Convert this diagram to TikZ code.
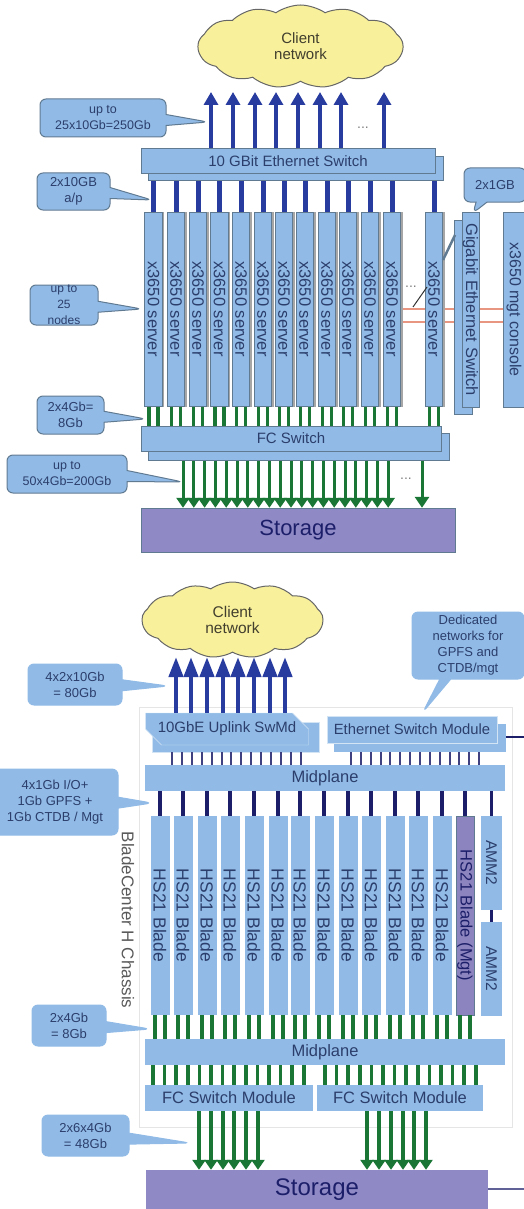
\documentclass[tikz,border=0pt]{standalone}
\usepackage{fontspec}
\usepackage{graphicx}
\setmainfont{Liberation Sans}
\usetikzlibrary{arrows.meta,calc,positioning,backgrounds,shapes.misc,shapes.symbols,shapes.callouts,shadows}
\definecolor{panel}{RGB}{145,187,230}
\definecolor{edge}{RGB}{96,122,146}
\definecolor{ink}{RGB}{44,62,108}
\definecolor{tenG}{RGB}{40,60,160}
\definecolor{navy}{RGB}{28,30,105}
\definecolor{fcg}{RGB}{26,118,52}
\definecolor{stor}{RGB}{143,138,198}
\definecolor{mgtp}{RGB}{140,132,190}
\definecolor{cloudy}{RGB}{248,240,155}
\definecolor{redl}{RGB}{232,150,130}
\newcommand{\fs}[1]{\fontsize{#1}{16}\selectfont}
\newcommand{\vt}[1]{\rotatebox{-90}{#1}}
\tikzset{
  plate/.style={rectangle,fill=panel,inner sep=0pt,text=ink,font=\fs{15}},
  swb/.style={plate,draw=edge,line width=1pt},
  srv/.style={swb,minimum width=17.5pt,minimum height=194pt,font=\fs{16.5},copy shadow={shadow xshift=1.6pt,shadow yshift=0pt,fill=gray!70,draw=gray!70}},
  blade/.style={plate,minimum width=19pt,minimum height=199pt,font=\fs{17.5}},
  note/.style={rectangle callout,fill=panel,draw=#1,line width=1pt,rounded corners=6pt,inner sep=0pt,text=ink,align=center,callout pointer width=11pt,font=\fs{13}},
  note/.default=edge,
  sky/.style={cloud,cloud puffs=13,cloud puff arc=70,aspect=2.5,fill=cloudy,draw=gray!80!black,line width=1pt,inner sep=0pt,align=center,text=black!70!olive,font=\fs{15}},
  store/.style={rectangle,fill=stor,inner sep=0pt,text=navy},
  dots/.style={inner sep=0pt,text=gray,font=\fs{14}},
  uparr/.style={-{Triangle[length=13pt,width=14pt]},tenG,line width=4.5pt},
  uplong/.style={-{Triangle[length=20pt,width=14pt]},tenG,line width=4.2pt},
  dnarr/.style={-{Triangle[length=10pt,width=13pt]},fcg,line width=3pt},
  blu/.style={tenG,line width=5pt},
  thin/.style={navy!85,line width=2pt},
  drk/.style={navy,line width=3.5pt},
  grn/.style={fcg,line width=3.6pt}
}
\begin{document}
\begin{tikzpicture}[x=1pt,y=-1pt]
  \useasboundingbox (0,0) rectangle (524,1209);
  % cluster of x3650 servers
  \node[sky,minimum width=205pt,minimum height=83pt] (cldA) at (300.5,46.5) {Client\\network};
  \node[swb,minimum width=295pt,minimum height=24pt] (swAb) at (295.5,169) {};
  \node[swb,minimum width=294pt,minimum height=25pt] (swA) at (288,161.5) {10 GBit Ethernet Switch};
  \foreach \x [count=\k] in {153.5,176,198,219.5,241,263,284,305,327,348,370,392,434} {
    \node[srv] (srv\k) at (\x,309) {\vt{x3650 server}};
  }
  \node[swb,minimum width=18pt,minimum height=194pt] (gigb) at (463,317) {};
  \node[swb,minimum width=17pt,minimum height=195pt,font=\fs{16.5}] (gig) at (470.5,309.5) {\vt{Gigabit Ethernet Switch}};
  \node[swb,minimum width=21pt,minimum height=195pt,font=\fs{16}] (mgt) at (514,309.5) {\vt{x3650 mgt console}};
  \node[swb,minimum width=301pt,minimum height=27pt] (fcAb) at (298.5,446.5) {};
  \node[swb,minimum width=300pt,minimum height=25pt] (fcA) at (291,438.5) {FC Switch};
  \node[store,draw=edge,minimum width=314pt,minimum height=44pt,font=\fs{22}] (stA) at (298,530) {Storage};
  \foreach \x [count=\k] in {211,233,255,276,298,320,341,384} {
    \coordinate (tipA\k) at (\x,92);
    \draw[uparr] (tipA\k |- swA.north) -- (tipA\k);
  }
  \foreach \k in {1,...,13} {
    \draw[blu] (srv\k.north) -- (srv\k.north |- swAb.south);
    \draw[grn] ([xshift=-4.5pt]srv\k.south) -- ([xshift=-4.5pt]srv\k.south |- fcA.north);
    \draw[grn] ([xshift=4.5pt]srv\k.south) -- ([xshift=4.5pt]srv\k.south |- fcA.north);
  }
  \foreach \k in {0,...,19} {
    \coordinate (dnA\k) at ({183+10.8*\k},480);
    \draw[dnarr] (dnA\k |- fcAb.south) -- (dnA\k |- stA.north);
  }
  \coordinate (dnAl) at (422,480);
  \draw[dnarr,-{Triangle[length=11pt,width=14pt]}] (dnAl |- fcAb.south) -- (dnAl |- stA.north);
  \begin{pgfonlayer}{background}
    \coordinate (redu) at (401,309); \coordinate (redv) at (401,322);
    \draw[redl,line width=1.4pt] (redu) -- (redu -| mgt.west);
    \draw[redl,line width=1.4pt] (redv) -- (redv -| mgt.west);
  \end{pgfonlayer}
  \coordinate (slA) at (413,307); \coordinate (slB) at (427,287);
  \draw[black!80,line width=1pt] (slA) -- (slB);
  \coordinate (slC) at (443,260); \coordinate (slD) at (455,235);
  \draw[edge,line width=2.5pt] (slC) -- (slD);
  \node[dots] (dotA) at (363,128) {...};
  \node[dots] (dotB) at (411,287) {...};
  \node[dots] (dotC) at (406,479) {...};
  \node[note,minimum width=126pt,minimum height=38pt,callout absolute pointer={(208,122)},font=\fs{12.5}] (nA) at (103,118) {up to\\25x10Gb=250Gb};
  \node[note,minimum width=73pt,minimum height=37pt,callout absolute pointer={(152,200)}] (nB) at (73.5,191.5) {2x10GB\\a/p};
  \node[note,minimum width=62pt,minimum height=34pt,callout absolute pointer={(473,213)}] (nC) at (495,185) {2x1GB};
  \node[note,minimum width=68pt,minimum height=40pt,callout absolute pointer={(142,309)},font=\fs{12}] (nD) at (64,305) {up to\\25\\nodes};
  \node[note,minimum width=67pt,minimum height=38pt,callout absolute pointer={(146,419)}] (nE) at (70.5,415) {2x4Gb=\\8Gb};
  \node[note,minimum width=120pt,minimum height=38pt,callout absolute pointer={(183,482)},font=\fs{12.5}] (nF) at (67,474) {up to\\50x4Gb=200Gb};
  % BladeCenter H chassis
  \node[draw=black!10,minimum width=373pt,minimum height=420pt,inner sep=0pt] (chs) at (325.5,917) {};
  \node[inner sep=0pt,text=black!65,font=\fs{17}] (chsl) at (128,920) {\vt{BladeCenter H Chassis}};
  \node[sky,minimum width=181pt,minimum height=76pt,font=\fs{15.5}] (cldB) at (232.5,620) {Client\\network};
  \tikzset{cham/.style={plate,chamfered rectangle,chamfered rectangle corners={north east,south west},chamfered rectangle xsep=9pt,chamfered rectangle ysep=9pt}}
  \node[cham,minimum width=167pt,minimum height=30pt,draw=white!60!panel] (upb) at (236,737) {};
  \node[cham,minimum width=163pt,minimum height=28pt,draw=white!60!panel] (up) at (227,729) {10GbE Uplink SwMd};
  \node[plate,minimum width=172pt,minimum height=28pt] (ethb) at (420,738) {};
  \node[plate,minimum width=170pt,minimum height=27pt,draw=white!60!panel,font=\fs{14.8}] (eth) at (412,729.5) {Ethernet Switch Module};
  \node[plate,minimum width=360pt,minimum height=26pt,font=\fs{16.5}] (midA) at (325,778) {Midplane};
  \foreach \x [count=\k] in {160,183,207,230,254,278,300,324,348,371,395,418,442} {
    \node[blade] (bl\k) at (\x,915.5) {\vt{HS21 Blade}};
  }
  \node[plate,draw=edge,fill=mgtp,text=navy,minimum width=18pt,minimum height=199pt,font=\fs{16.5}] (bl14) at (465,915.5) {\vt{HS21 Blade (Mgt)}};
  \node[plate,minimum width=21pt,minimum height=94pt,font=\fs{15.5}] (ammA) at (491.5,863) {\vt{AMM2}};
  \node[plate,minimum width=21pt,minimum height=94pt,font=\fs{15.5}] (ammB) at (491.5,969) {\vt{AMM2}};
  \node[plate,minimum width=360pt,minimum height=26pt,font=\fs{16.5}] (midB) at (325,1052) {Midplane};
  \node[plate,minimum width=168pt,minimum height=26pt,font=\fs{16.5}] (fcL) at (229,1098) {FC Switch Module};
  \node[plate,minimum width=166pt,minimum height=26pt,font=\fs{16.5}] (fcR) at (400,1098) {FC Switch Module};
  \node[store,minimum width=342pt,minimum height=39pt,font=\fs{24}] (stB) at (317,1189.5) {Storage};
  \foreach \x [count=\k] in {176,191,207,223,238,254,270,285} {
    \coordinate (tipB\k) at (\x,657);
    \draw[uplong] (tipB\k |- up.north) -- (tipB\k);
  }
  \foreach \k in {0,...,13} {
    \coordinate (uL\k) at ({172+\k*9.9},760);
    \coordinate (uR\k) at ({351+\k*9.85},760);
    \draw[thin] (uL\k |- upb.south) -- (uL\k |- midA.north);
    \draw[thin] (uR\k |- ethb.south) -- (uR\k |- midA.north);
    \coordinate (gL\k) at ({153+\k*11.6},1075);
    \coordinate (gR\k) at ({325+\k*11.6},1075);
    \draw[grn] (gL\k |- midB.south) -- (gL\k |- fcL.north);
    \draw[grn] (gR\k |- midB.south) -- (gR\k |- fcR.north);
  }
  \foreach \k in {1,...,14} {
    \draw[drk] (bl\k.north) -- (bl\k.north |- midA.south);
    \draw[grn] ([xshift=-5pt]bl\k.south) -- ([xshift=-5pt]bl\k.south |- midB.north);
    \draw[grn] ([xshift=5pt]bl\k.south) -- ([xshift=5pt]bl\k.south |- midB.north);
  }
  \draw[drk] (ammA.north) -- (ammA.north |- midA.south);
  \draw[drk] (ammA.south) -- (ammB.north);
  \foreach \x [count=\k] in {199,211,223,234,246,258} {
    \coordinate (dnL\k) at (\x,1140);
    \draw[dnarr,line width=4pt] (dnL\k |- fcL.south) -- (dnL\k |- stB.north);
  }
  \foreach \x [count=\k] in {367,379,391,403,414,426} {
    \coordinate (dnR\k) at (\x,1140);
    \draw[dnarr,line width=4pt] (dnR\k |- fcR.south) -- (dnR\k |- stB.north);
  }
  \coordinate (edgeA) at (524,737); \coordinate (edgeB) at (524,1189);
  \draw[navy,line width=1.2pt] (ethb.east |- edgeA) -- (edgeA);
  \draw[navy!70,line width=1.4pt] (stB.east |- edgeB) -- (edgeB);
  \node[note=panel,minimum width=94pt,minimum height=41pt,callout absolute pointer={(168,686)}] (nG) at (75,684.5) {4x2x10Gb\\= 80Gb};
  \node[note=panel,minimum width=112pt,minimum height=67pt,callout absolute pointer={(423,712)}] (nH) at (468,645.5) {Dedicated\\networks for\\GPFS and\\CTDB/mgt};
  \node[note=panel,minimum width=126pt,minimum height=66pt,callout absolute pointer={(152,803)}] (nI) at (55,802) {4x1Gb I/O+\\1Gb GPFS +\\1Gb CTDB / Mgt};
  \node[note=panel,minimum width=74pt,minimum height=41pt,callout absolute pointer={(150,1029)}] (nJ) at (69,1025.5) {2x4Gb\\= 8Gb};
  \node[note=panel,minimum width=87pt,minimum height=41pt,callout absolute pointer={(190,1143)}] (nK) at (85.5,1135.5) {2x6x4Gb\\= 48Gb};
\end{tikzpicture}
\end{document}
